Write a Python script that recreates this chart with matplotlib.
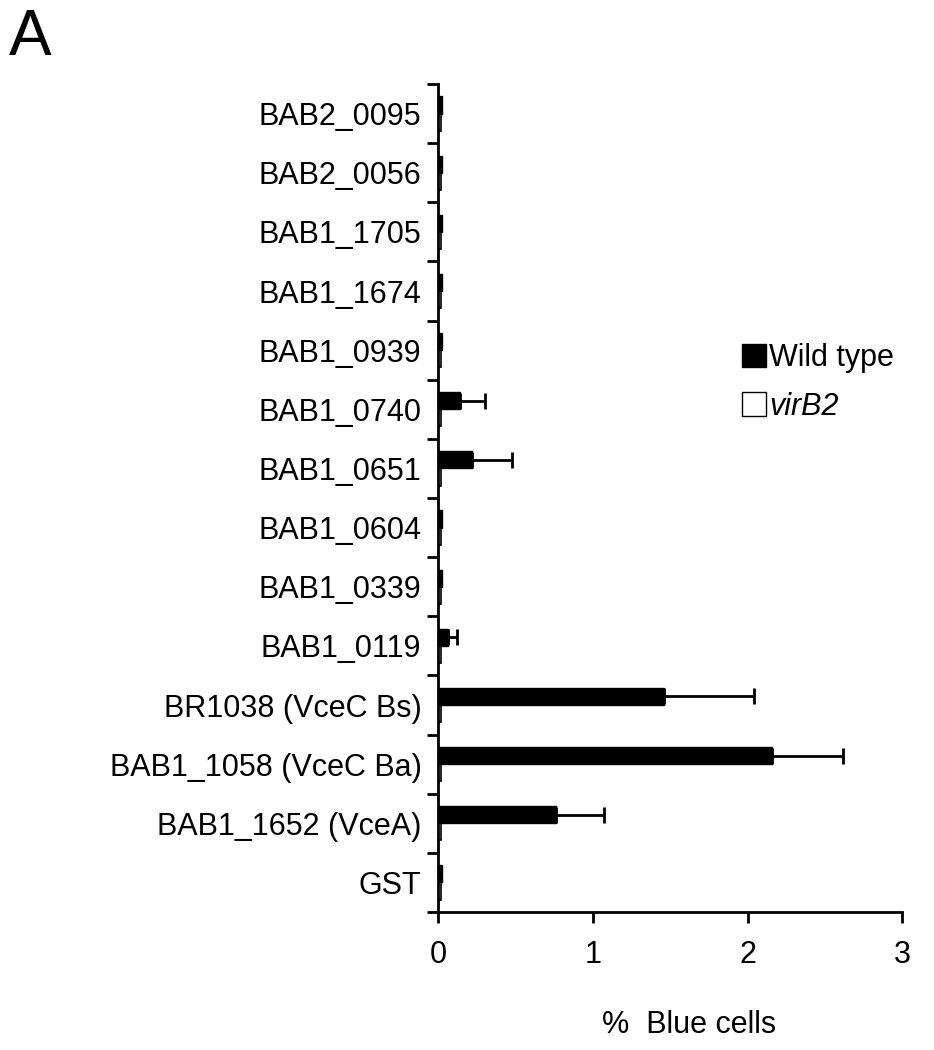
import numpy as np
import matplotlib
matplotlib.use("Agg")
import matplotlib.pyplot as plt
from matplotlib.patches import Patch

plt.rcParams['font.family'] = ['Liberation Sans', 'DejaVu Sans']

# data (top to bottom as in the figure)
labels = ['BAB2_0095', 'BAB2_0056', 'BAB1_1705', 'BAB1_1674', 'BAB1_0939',
          'BAB1_0740', 'BAB1_0651', 'BAB1_0604', 'BAB1_0339', 'BAB1_0119',
          'BR1038 (VceC Bs)', 'BAB1_1058 (VceC Ba)', 'BAB1_1652 (VceA)', 'GST']
wild_type = [0.025, 0.025, 0.025, 0.025, 0.025, 0.142, 0.22, 0.025, 0.025,
             0.065, 1.46, 2.16, 0.76, 0.025]
wild_err = [0, 0, 0, 0, 0, 0.16, 0.26, 0, 0, 0.055, 0.58, 0.46, 0.31, 0]
virb2 = [0.02] * 14

n = len(labels)
y = np.arange(n)
h = 0.29
fs = 22

fig = plt.figure(figsize=(9.34, 10.5), dpi=100)
ax = fig.add_axes([0.469, 0.1314, 0.497, 0.7886])

ax.barh(y - h / 2, wild_type, height=h, color='black', edgecolor='black',
        linewidth=1.0)
ax.barh(y + h / 2, virb2, height=h, color='white', edgecolor='black',
        linewidth=1.2)

wt = np.array(wild_type)
we = np.array(wild_err)
m = we > 0
ax.errorbar(wt[m], (y - h / 2)[m], xerr=[np.zeros(m.sum()), we[m]],
            fmt='none', ecolor='black', elinewidth=2, capsize=6,
            capthick=2)

ax.set_xlim(0, 3)
ax.set_ylim(n - 0.5, -0.5)
ax.set_xticks([0, 1, 2, 3])
ax.set_xticklabels(['0', '1', '2', '3'], fontsize=fs)
ax.tick_params(axis='x', direction='out', length=8, width=2, pad=12)

ax.set_yticks(np.arange(-0.5, n, 1.0))
ax.set_yticklabels([])
ax.set_yticks(y, minor=True)
ax.set_yticklabels(labels, minor=True, fontsize=fs)
ax.tick_params(axis='y', which='major', direction='out', length=8, width=2)
ax.tick_params(axis='y', which='minor', length=0, pad=12)

for s in ['top', 'right']:
    ax.spines[s].set_visible(False)
for s in ['left', 'bottom']:
    ax.spines[s].set_linewidth(2)

ax.set_xlabel('%  Blue cells', fontsize=fs)
ax.xaxis.set_label_coords(0.54, -0.118)

handles = [Patch(facecolor='black', edgecolor='black', label='Wild type'),
           Patch(facecolor='white', edgecolor='black', label='virB2')]
leg = ax.legend(handles=handles, loc='upper left', bbox_to_anchor=(0.595, 0.72),
                frameon=False, fontsize=fs, handlelength=0.8,
                handleheight=0.8, handletextpad=0.1, labelspacing=0.6)
leg.get_texts()[1].set_style('italic')

fig.text(0.01, 0.992, 'A', fontsize=46, va='top', ha='left')

fig.savefig('out.png', dpi=100)
